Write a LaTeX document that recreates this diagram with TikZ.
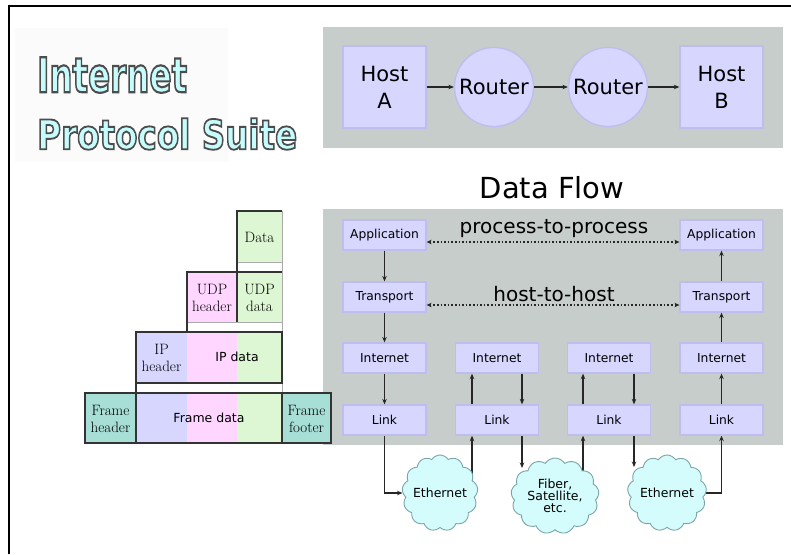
\documentclass[tikz,border=0pt]{standalone}
\usepackage{fontspec}
\usepackage{graphicx}
\usetikzlibrary{shapes.symbols,arrows.meta,calc}
\newfontfamily\dv{DejaVu Sans}
\definecolor{panel}{HTML}{C6CDCB}
\definecolor{boxfill}{HTML}{D6D6FF}
\definecolor{boxline}{HTML}{BDBDEF}
\definecolor{cloudfill}{HTML}{D4FCFC}
\definecolor{cloudline}{HTML}{7AA6A8}
\definecolor{pgreen}{HTML}{DDF7D4}
\definecolor{ppink}{HTML}{FFD6FF}
\definecolor{plav}{HTML}{D6D6FF}
\definecolor{pteal}{HTML}{A7DED6}
\definecolor{pline}{HTML}{333333}
\definecolor{pgap}{HTML}{AAAAAA}
\definecolor{titlecyan}{HTML}{C6FCFC}
\pgfdeclarelayer{back}
\pgfdeclarelayer{mid}
\pgfsetlayers{back,mid,main}
\newcommand{\outlinedtitle}[3]{\resizebox{#1}{#2}{\textcolor{titlecyan}{\special{pdf:literal 2 Tr 0.45 w 0.3 0.3 0.3 RG}\dv\bfseries #3\special{pdf:literal 0 Tr}}}}
\tikzset{
  layerbox/.style={draw=boxline, fill=boxfill, line width=1.3pt, minimum width=83pt, minimum height=30pt, inner sep=0pt, font=\dv\fontsize{12.3}{14}\selectfont},
  hostbox/.style={draw=boxline, fill=boxfill, line width=1.3pt, minimum width=83pt, minimum height=82pt, inner sep=0pt, align=center, font=\dv\fontsize{21}{27}\selectfont},
  router/.style={circle, draw=boxline, fill=boxfill, line width=1.3pt, minimum size=79pt, inner sep=0pt, font=\dv\fontsize{21}{25}\selectfont},
  netcloud/.style={cloud, cloud puffs=13, cloud puff arc=115, cloud ignores aspect, draw=cloudline, fill=cloudfill, line width=0.9pt, inner sep=0pt, align=center, font=\dv\fontsize{12.5}{12}\selectfont},
  arr/.style={line width=1.4pt, draw=black!85, -{Stealth[length=5.5pt,width=4.5pt]}},
  dotarr/.style={line width=1.6pt, draw=black!85, dotted, {Stealth[length=5pt,width=4.5pt]}-{Stealth[length=5pt,width=4.5pt]}},
  serifl/.style={inner sep=0pt, align=center, font=\fontsize{15}{17}\selectfont},
  sansl/.style={inner sep=0pt, font=\dv\fontsize{12.5}{14}\selectfont},
}
\begin{document}
\begin{tikzpicture}[x=1pt,y=-1pt]
\useasboundingbox (0,0) rectangle (791,554);
\begin{pgfonlayer}{back}
\fill[white] (0,0) rectangle (791,554);
\fill[black!1.5] (15,28) rectangle (228,162);
\fill[panel] (323,27) rectangle (783,148);
\fill[panel] (323,209) rectangle (783,445);
\end{pgfonlayer}
% frame lines
\draw[line width=2pt] (9,554) -- (9,6) -- (791,6);
% title
\node[anchor=north west, inner sep=0pt] (t1) at (37,57) {\outlinedtitle{150pt}{35pt}{Internet}};
\node[anchor=north west, inner sep=0pt] (t2) at (37,118) {\outlinedtitle{260pt}{31pt}{Protocol Suite}};

% top flow
\node[hostbox] (hA) at (384.5,87) {Host\\A};
\node[router] (r1) at (494,87) {Router};
\node[router] (r2) at (608,87) {Router};
\node[hostbox] (hB) at (721.5,87) {Host\\B};
\draw[arr] (hA) -- (r1);
\draw[arr] (r1) -- (r2);
\draw[arr] (r2) -- (hB);

\node[anchor=base, inner sep=0pt, font=\dv\fontsize{29}{32}\selectfont] (df) at (552,198) {Data Flow};

% layer stacks
\node[layerbox] (app1) at (384.5,235) {Application};
\node[layerbox] (tr1) at (384.5,297) {Transport};
\node[layerbox] (in1) at (384.5,358) {Internet};
\node[layerbox] (ln1) at (384.5,420) {Link};
\node[layerbox] (in2) at (497,358) {Internet};
\node[layerbox] (ln2) at (497,420) {Link};
\node[layerbox] (in3) at (609,358) {Internet};
\node[layerbox] (ln3) at (609,420) {Link};
\node[layerbox] (app4) at (721.5,235) {Application};
\node[layerbox] (tr4) at (721.5,297) {Transport};
\node[layerbox] (in4) at (721.5,358) {Internet};
\node[layerbox] (ln4) at (721.5,420) {Link};

\draw[dotarr] ([yshift=-7pt]app1.east) -- ([yshift=-7pt]app4.west);
\draw[dotarr] ([yshift=-8pt]tr1.east) -- ([yshift=-8pt]tr4.west);
\node[anchor=base, inner sep=0pt, font=\dv\fontsize{20}{22}\selectfont] (p2p) at (554,233) {process-to-process};
\node[anchor=base, inner sep=0pt, font=\dv\fontsize{20}{22}\selectfont] (h2h) at (554,301) {host-to-host};

\draw[arr] (app1) -- (tr1);
\draw[arr] (tr1) -- (in1);
\draw[arr] (in1) -- (ln1);
\draw[arr] (ln4) -- (in4);
\draw[arr] (in4) -- (tr4);
\draw[arr] (tr4) -- (app4);
\draw[arr] ([xshift=-25pt]ln2.north) -- ([xshift=-25pt]in2.south);
\draw[arr] ([xshift=25pt]in2.south) -- ([xshift=25pt]ln2.north);
\draw[arr] ([xshift=-26pt]ln3.north) -- ([xshift=-26pt]in3.south);
\draw[arr] ([xshift=25pt]in3.south) -- ([xshift=25pt]ln3.north);

% clouds
\node[netcloud, minimum width=72pt, minimum height=76pt] (eth1) at (440,493) {Ethernet};
\node[netcloud, minimum width=88pt, minimum height=76pt] (fib) at (555,496) {Fiber,\\Satellite,\\etc.};
\node[netcloud, minimum width=79pt, minimum height=76pt] (eth2) at (667,493) {Ethernet};

\coordinate (u2) at ([xshift=-25pt]ln2.south);
\coordinate (d2) at ([xshift=25pt]ln2.south);
\coordinate (u3) at ([xshift=-26pt]ln3.south);
\coordinate (d3) at ([xshift=25pt]ln3.south);
\coordinate (fibtop) at ([yshift=28pt]fib.center);
\coordinate (eth2top) at ([yshift=26pt]eth2.center);
\begin{pgfonlayer}{mid}
\draw[arr] (ln1.south) |- (eth1.west);
\draw[arr] (eth1.center -| u2) -- (u2);
\draw[arr] (d2) -- (fibtop -| d2);
\draw[arr] (fib.center -| u3) -- (u3);
\draw[arr] (d3) -- (eth2top -| d3);
\draw[arr] (eth2.east) -| (ln4.south);
\end{pgfonlayer}

% packet encapsulation
\fill[pgreen] (237,211) rectangle (282,262);
\draw[pgap, fill=white, line width=0.8pt] (237,262) rectangle (282,272);
\fill[ppink] (187,272) rectangle (237,322);
\fill[pgreen] (237,272) rectangle (282,322);
\draw[pgap, fill=white, line width=0.8pt] (187,322) rectangle (282,332);
\fill[plav] (136,332) rectangle (187,383);
\fill[ppink] (187,332) rectangle (237,383);
\fill[pgreen] (237,332) rectangle (282,383);
\draw[pgap, fill=white, line width=0.8pt] (136,383) rectangle (282,393);
\fill[pteal] (85,393) rectangle (136,443);
\fill[plav] (136,393) rectangle (187,443);
\fill[ppink] (187,393) rectangle (237,443);
\fill[pgreen] (237,393) rectangle (282,443);
\fill[pteal] (282,393) rectangle (331,443);
% outlines
\draw[pgap, line width=0.8pt] (282,211) -- (282,332);
\draw[pgap, line width=0.8pt] (187,322) -- (282,322);
\draw[pline, line width=1.1pt] (237,272) -- (237,211) -- (282,211);
\draw[pline, line width=1.1pt] (187,332) -- (187,272) -- (282,272);
\draw[pline, line width=1.1pt] (237,272) -- (237,322);
\draw[pline, line width=1.1pt] (136,332) rectangle (282,383);
\draw[pline, line width=1.1pt] (85,393) rectangle (331,443);
\draw[pline, line width=1.1pt] (136,383) -- (136,443);
\draw[pline, line width=1.1pt] (282,393) -- (282,443);
% packet labels
\node[serifl] (ldata) at (259.5,237) {Data};
\node[serifl] (ludph) at (212,298) {UDP\\header};
\node[serifl] (ludpd) at (259.5,298) {UDP\\data};
\node[serifl] (liph) at (161.5,358) {IP\\header};
\node[sansl] (lipd) at (237,357) {IP data};
\node[serifl] (lfh) at (110.5,419) {Frame\\header};
\node[sansl] (lfd) at (209,418) {Frame data};
\node[serifl] (lff) at (306.5,419) {Frame\\footer};
\end{tikzpicture}
\end{document}
